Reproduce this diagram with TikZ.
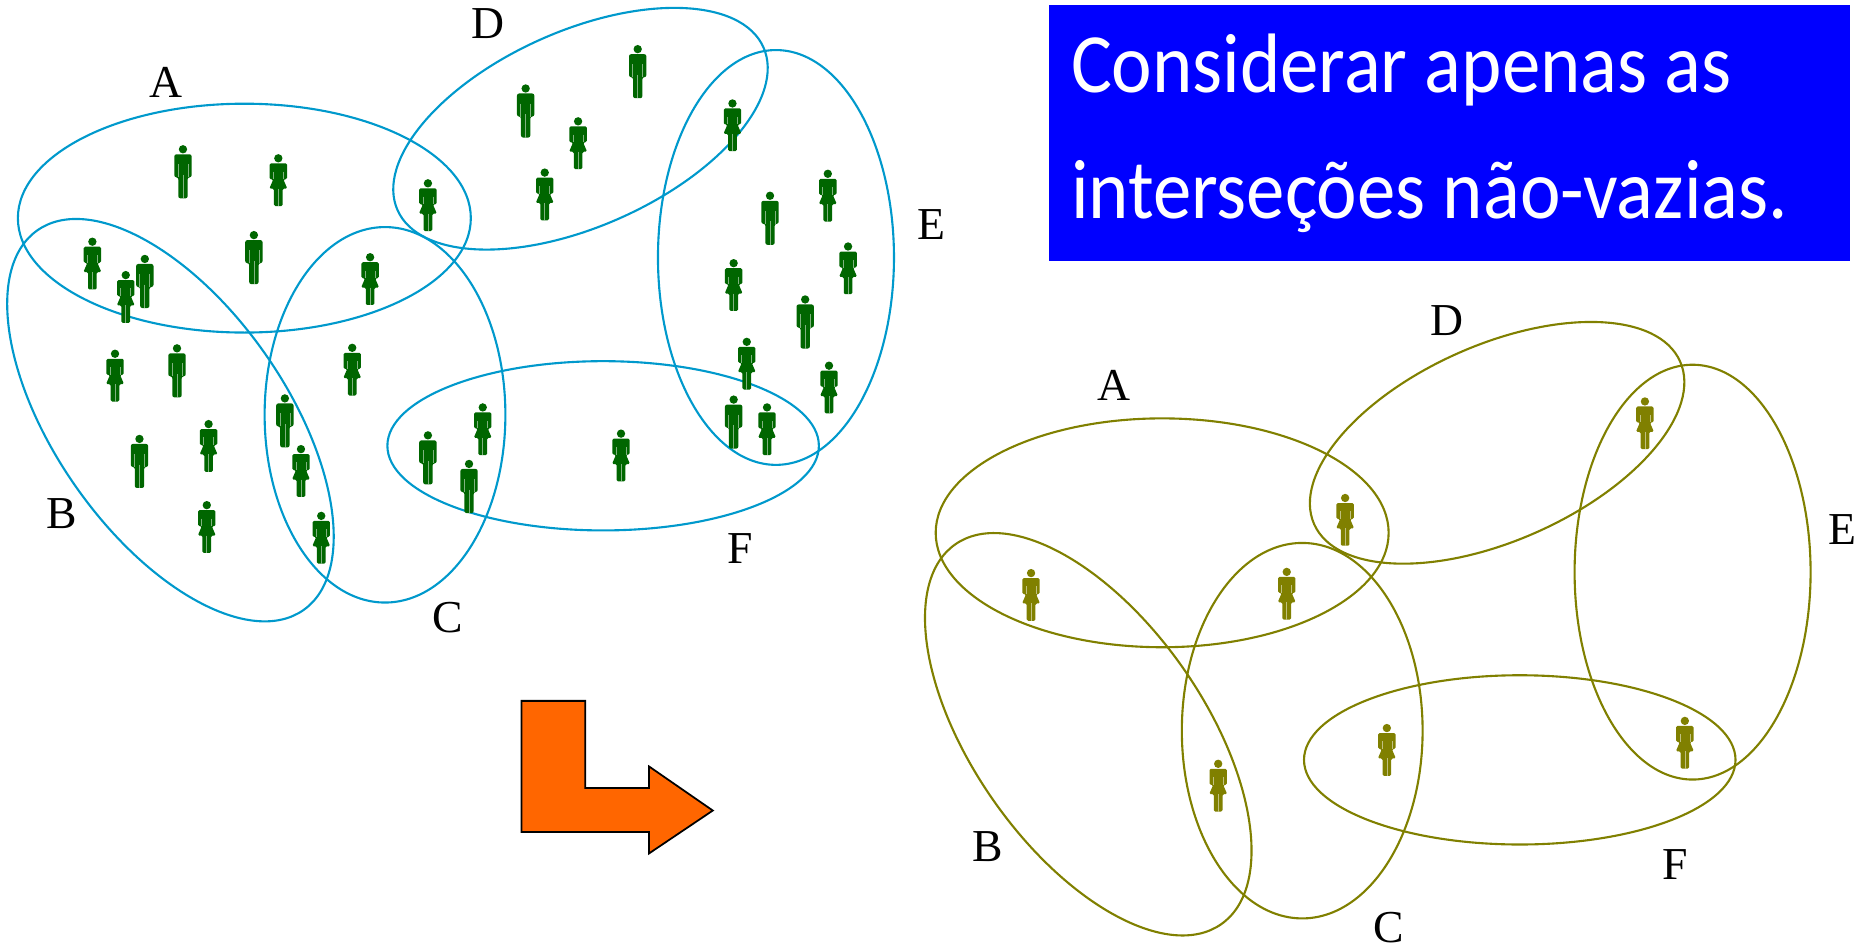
\documentclass[tikz,border=0pt]{standalone}
\usepackage{fontspec}
\setmainfont{Liberation Serif}
\newfontfamily\bannerfont{Carlito}
\definecolor{setblue}{RGB}{0,153,204}
\definecolor{setolive}{RGB}{128,128,0}
\definecolor{persongreen}{RGB}{0,102,0}
\definecolor{arroworange}{RGB}{255,102,0}
\tikzset{
	setline/.style={line width=0.6pt},
	setlabel/.style={font=\fontsize{13}{15}\selectfont, inner sep=0pt},
	bannerline/.style={white, font=\bannerfont\fontsize{24}{24}\selectfont, anchor=base west, inner sep=0pt, transform shape, xscale=0.91},
	man/.pic={
		\fill[scale=0.28] (0,-67) circle (12.5);
		\fill[scale=0.28, rounded corners=0.6pt] (-26,-52) -- (26,-52) -- (26,17) -- (14,17) -- (14,80) -- (-14,80) -- (-14,17) -- (-26,17) -- cycle;
		\draw[scale=0.28, white!50!personcolor, line width=0.2pt] (-15,-22) -- (-15,17) (15,-22) -- (15,17) (0,10) -- (0,80);
	},
	woman/.pic={
		\fill[scale=0.28] (0,-65) circle (12.5);
		\fill[scale=0.28, rounded corners=0.4pt] (-26,-50) -- (26,-50) -- (26,-2) -- (15,-2) -- (27,26) -- (13,26) -- (13,78) -- (-13,78) -- (-13,26) -- (-27,26) -- (-15,-2) -- (-26,-2) -- cycle;
		\draw[scale=0.28, white!50!personcolor, line width=0.2pt] (-15,-25) -- (-15,-2) (15,-25) -- (15,-2) (0,26) -- (0,78);
	}
}
\begin{document}
\begin{tikzpicture}[x=0.0119196cm, y=-0.0119196cm]
	\useasboundingbox (0,0) rectangle (1568,794.5);
	% the sets with everybody in them
	\draw[setline, setblue] (205,183) ellipse (190 and 96);
	\draw[setline, setblue, shift={(143,352.5)}, rotate=-55] (0,0) ellipse (194.5 and 97);
	\draw[setline, setblue] (323,348) ellipse (101 and 157.5);
	\draw[setline, setblue, shift={(487,108)}, rotate=24] (0,0) ellipse (168 and 82);
	\draw[setline, setblue] (651,216) ellipse (99 and 174);
	\draw[setline, setblue] (506,374) ellipse (181 and 71);
	\node[setlabel] (labA) at (139.5,69) {A};
	\node[setlabel] (labB) at (52,431) {B};
	\node[setlabel] (labC) at (376,518) {C};
	\node[setlabel] (labD) at (409,20) {D};
	\node[setlabel] (labE) at (781.5,188) {E};
	\node[setlabel] (labF) at (621,460) {F};
	\colorlet{personcolor}{persongreen}
	\begin{scope}[persongreen]
		\pic at (153.5,144) {man};
		\pic at (213,216) {man};
		\pic at (121.5,236) {man};
		\pic at (148.5,311) {man};
		\pic at (117,387) {man};
		\pic at (239,353) {man};
		\pic at (359,384) {man};
		\pic at (393.5,408) {man};
		\pic at (441,93) {man};
		\pic at (535,60) {man};
		\pic at (646,183) {man};
		\pic at (675.5,270) {man};
		\pic at (615.5,354) {man};
		\pic at (233.5,151) {woman};
		\pic at (77.5,221) {woman};
		\pic at (105.5,249) {woman};
		\pic at (359,172) {woman};
		\pic at (310.5,234) {woman};
		\pic at (96.5,315) {woman};
		\pic at (175,374) {woman};
		\pic at (173.5,442) {woman};
		\pic at (252.5,395) {woman};
		\pic at (269.5,451) {woman};
		\pic at (295.5,310) {woman};
		\pic at (405,360) {woman};
		\pic at (521,382) {woman};
		\pic at (485,120) {woman};
		\pic at (457,163) {woman};
		\pic at (614.5,105) {woman};
		\pic at (694.5,164) {woman};
		\pic at (711.5,225) {woman};
		\pic at (615.5,239) {woman};
		\pic at (626.5,305) {woman};
		\pic at (695.5,325) {woman};
		\pic at (643.5,360) {woman};
	\end{scope}
	% the banner
	\fill[blue] (880,4) rectangle (1552,219);
	\node[bannerline] (line1) at (898,78) {Considerar apenas as};
	\node[bannerline] (line2) at (898,183) {interseções não-vazias.};
	% the arrow between the two
	\draw[fill=arroworange, line width=0.5pt] (437.5,588) -- (491,588) -- (491,661) -- (544.5,661) -- (544.5,643) -- (598,680) -- (544.5,716) -- (544.5,698) -- (437.5,698) -- cycle;
	% the same sets, only the non-empty intersections kept
	\draw[setline, setolive] (975,447) ellipse (190 and 96);
	\draw[setline, setolive, shift={(913,616)}, rotate=-55] (0,0) ellipse (194.5 and 97);
	\draw[setline, setolive] (1092.5,613) ellipse (101 and 157.5);
	\draw[setline, setolive, shift={(1256,371.5)}, rotate=24] (0,0) ellipse (168 and 82);
	\draw[setline, setolive] (1420,480) ellipse (99 and 174);
	\draw[setline, setolive] (1275,637.5) ellipse (181 and 71);
	\node[setlabel] (labA2) at (935,323) {A};
	\node[setlabel] (labB2) at (829,710) {B};
	\node[setlabel] (labC2) at (1165,778) {C};
	\node[setlabel] (labD2) at (1214,269) {D};
	\node[setlabel] (labE2) at (1545.5,444) {E};
	\node[setlabel] (labF2) at (1405,725) {F};
	\colorlet{personcolor}{setolive}
	\begin{scope}[setolive]
		\pic at (865,499) {woman};
		\pic at (1128.5,436) {woman};
		\pic at (1079.5,498) {woman};
		\pic at (1380,355) {woman};
		\pic at (1022,659) {woman};
		\pic at (1163.5,629) {woman};
		\pic at (1413.5,623) {woman};
	\end{scope}
\end{tikzpicture}
\end{document}
